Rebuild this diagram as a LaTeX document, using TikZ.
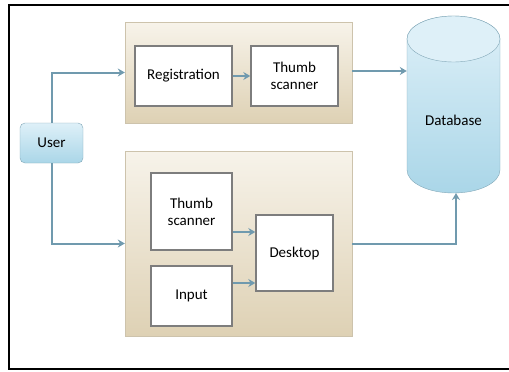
\documentclass[tikz,border=0pt]{standalone}
\usepackage{fontspec}
\setmainfont{Carlito}
\usetikzlibrary{arrows.meta}
\definecolor{flowblue}{RGB}{112,154,174}
\definecolor{grptop}{RGB}{247,243,234}
\definecolor{grpbot}{RGB}{222,209,180}
\definecolor{grpline}{RGB}{205,195,172}
\definecolor{boxline}{RGB}{125,125,125}
\definecolor{skytop}{RGB}{222,240,248}
\definecolor{skybot}{RGB}{170,214,232}
\definecolor{skyline}{RGB}{130,168,184}
\tikzset{
  grpbox/.style={draw=grpline, top color=grptop, bottom color=grpbot, minimum width=227pt},
  stepbox/.style={draw=boxline, line width=1.4pt, fill=white, align=center, font=\fontsize{15}{17}\selectfont},
  flow/.style={draw=flowblue, line width=2pt, -{Stealth[length=7pt,width=8pt]}}
}
\begin{document}
\begin{tikzpicture}[x=1pt, y=-1pt]
    \useasboundingbox (0,0) rectangle (509,372);
    \draw[line width=1.4pt] (509,5) -- (9,5) -- (9,369) -- (509,369);
    % upper group
    \node[grpbox, minimum height=101pt] (topgrp) at (238.5,72.5) {};
    \node[stepbox, minimum width=97pt, minimum height=60pt] (reg) at (183.5,76) {Registration};
    \node[stepbox, minimum width=87pt, minimum height=60pt] (thumbA) at (294.5,76) {Thumb\\scanner};
    % lower group
    \node[grpbox, minimum height=185pt] (botgrp) at (238.5,243.5) {};
    \node[stepbox, minimum width=81pt, minimum height=77pt] (thumbB) at (191.5,211.5) {Thumb\\scanner};
    \node[stepbox, minimum width=81pt, minimum height=60pt] (input) at (191.5,296) {Input};
    \node[stepbox, minimum width=77pt, minimum height=76pt] (desk) at (294.5,253) {Desktop};
    % user
    \node[draw=skyline, rounded corners=5pt, top color=skytop, bottom color=skybot,
          minimum width=63pt, minimum height=40pt, font=\fontsize{15}{17}\selectfont] (user) at (51.5,143) {User};
    % database cylinder
    \draw[draw=skyline, top color=skytop, bottom color=skybot]
        (407,39) -- (407,170) arc[start angle=180, end angle=0, x radius=46.5, y radius=23]
        -- (500,39) arc[start angle=0, end angle=-180, x radius=46.5, y radius=23] -- cycle;
    \draw[draw=skyline, fill=skytop] (453.5,39) ellipse[x radius=46.5, y radius=23];
    \node[minimum width=93pt, minimum height=131pt, inner sep=0pt] (dbbody) at (453.5,104.5) {};
    \node[font=\fontsize{15}{17}\selectfont] (db) at (453.5,120) {Database};
    \coordinate (dbbase) at (456,193);
    % connectors
    \draw[flow] (user.north) |- (topgrp.west);
    \draw[flow] (user.south) |- (botgrp.west);
    \draw[flow] (reg) -- (thumbA);
    \draw[flow] ([yshift=1.5pt]topgrp.east) -- ([yshift=1.5pt]topgrp.east -| dbbody.west);
    \draw[flow] ([yshift=-20.5pt]thumbB.east) -- ([yshift=-20.5pt]thumbB.east -| desk.west);
    \draw[flow] ([yshift=13pt]input.east) -- ([yshift=13pt]input.east -| desk.west);
    \draw[flow] (botgrp.east) -| (dbbase);
\end{tikzpicture}
\end{document}
